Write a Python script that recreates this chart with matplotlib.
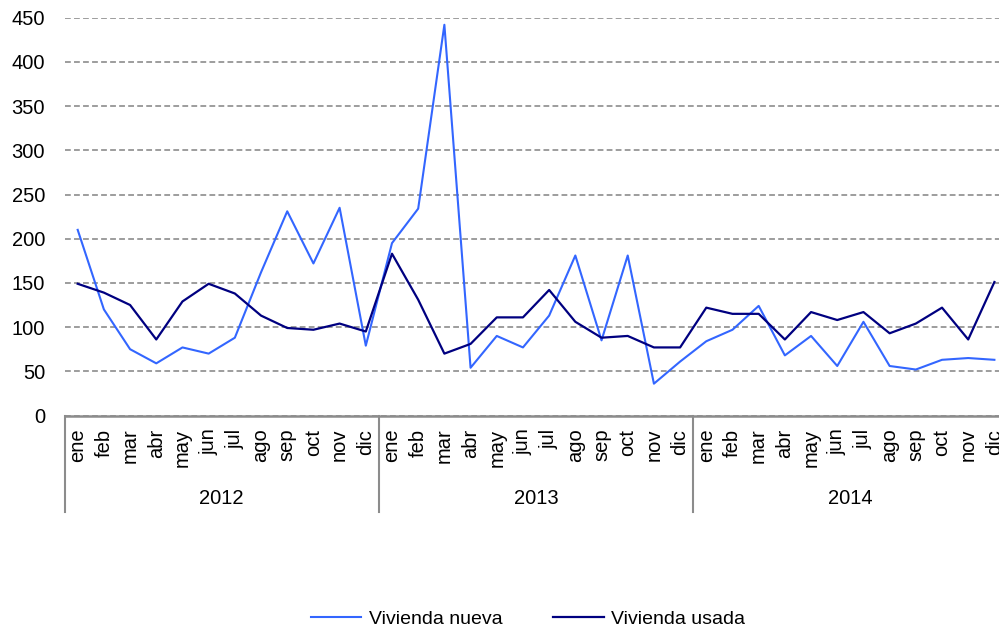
import matplotlib
matplotlib.use("Agg")
import matplotlib.pyplot as plt
from matplotlib.lines import Line2D
from matplotlib.transforms import blended_transform_factory

plt.rcParams['font.family'] = ['Liberation Sans', 'DejaVu Sans']

years = ["2012", "2013", "2014"]
months = ["ene", "feb", "mar", "abr", "may", "jun", "jul", "ago", "sep", "oct", "nov", "dic"]

vivienda_nueva = [
    210, 120, 75, 59, 77, 70, 88, 162, 231, 172, 235, 79,
    195, 234, 442, 54, 90, 77, 113, 181, 85, 181, 36, 61,
    84, 97, 124, 68, 90, 56, 106, 56, 52, 63, 65, 63,
]
vivienda_usada = [
    149, 139, 125, 86, 129, 149, 138, 113, 99, 97, 104, 95,
    183, 131, 70, 81, 111, 111, 142, 106, 88, 90, 77, 77,
    122, 115, 115, 86, 117, 108, 117, 93, 104, 122, 86, 151,
]
yticks = [0, 50, 100, 150, 200, 250, 300, 350, 400, 450]

W, H = 999, 632
fig = plt.figure(figsize=(W / 100, H / 100), dpi=100)
left_px, right_px = 64.6, 1007.5
bottom_px, top_px = 415.5, 17.7
ax = fig.add_axes([left_px / W, (H - bottom_px) / H,
                   (right_px - left_px) / W, (bottom_px - top_px) / H])

n = len(vivienda_nueva)
x = list(range(n))
ax.plot(x, vivienda_nueva, color="#3366FF", lw=1.5, label="Vivienda nueva")
ax.plot(x, vivienda_usada, color="#000080", lw=1.6, label="Vivienda usada")

ax.set_xlim(-0.5, n - 0.5)
ax.set_ylim(0, 450)
ax.set_yticks(yticks)
ax.yaxis.grid(True, linestyle=(0, (3.2, 1.8)), color="#959595", lw=1.3)
ax.set_axisbelow(True)
for s in ["left", "right", "top"]:
    ax.spines[s].set_visible(False)
ax.spines["bottom"].set_color("#8c8c8c")
ax.spines["bottom"].set_linewidth(1.8)
ax.tick_params(axis="y", length=0, pad=14, labelsize=14.5)

ax.set_xticks(x)
ax.set_xticklabels(months * len(years), rotation=90)
ax.tick_params(axis="x", length=0, pad=9.5, labelsize=14.5)

trans = blended_transform_factory(ax.transData, fig.transFigure)
y_top = (H - bottom_px) / H
y_bot = (H - 511.7) / H
for i in range(len(years) + 1):
    xb = i * 12 - 0.5
    ax.add_line(Line2D([xb, xb], [y_top, y_bot], transform=trans,
                       color="#8c8c8c", lw=1.5, clip_on=False))
for i, yr in enumerate(years):
    ax.text(i * 12 + 5.5, (H - 498) / H, yr, transform=trans,
            ha="center", va="center", fontsize=14.5)

fig.legend(loc="center", bbox_to_anchor=(528 / W, (H - 619) / H), ncol=2,
           frameon=False, fontsize=14, handlelength=2.6, handletextpad=0.4,
           columnspacing=2.6)

fig.savefig("out.png", dpi=100)
